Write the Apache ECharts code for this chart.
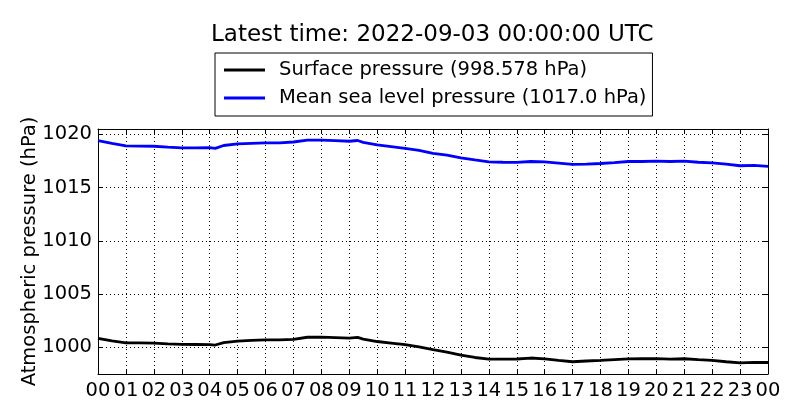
<!DOCTYPE html>
<html>
<head>
<meta charset="utf-8">
<script src="https://cdn.jsdelivr.net/npm/echarts@6/dist/echarts.min.js"></script>
<style>
html,body{margin:0;padding:0;background:#fff;}
#chart{width:800px;height:420px;}
</style>
</head>
<body>
<div id="chart"></div>
<script>
// Hours since 2022-09-02 00:00 UTC
const hours = [0,0.5,1,1.5,2,2.5,3,3.5,4,4.2,4.5,5,5.5,6,6.5,7,7.5,8,8.5,9,9.3,9.5,10,10.5,11,11.5,12,12.5,13,13.5,14,14.5,15,15.5,16,16.5,17,17.5,18,18.5,19,19.5,20,20.5,21,21.5,22,22.5,23,23.5,24];
const surfacePressure = [1000.85,1000.6,1000.42,1000.42,1000.4,1000.33,1000.28,1000.27,1000.26,1000.22,1000.45,1000.58,1000.65,1000.7,1000.7,1000.75,1000.95,1000.97,1000.92,1000.86,1000.93,1000.78,1000.55,1000.4,1000.25,1000.05,999.78,999.55,999.27,999.05,998.9,998.9,998.91,999.0,998.92,998.78,998.65,998.72,998.78,998.85,998.92,998.93,998.94,998.9,998.93,998.85,998.78,998.65,998.55,998.6,998.578];
const mslPressure = [1019.4,1019.15,1018.92,1018.9,1018.88,1018.8,1018.73,1018.72,1018.75,1018.68,1018.95,1019.1,1019.15,1019.2,1019.2,1019.28,1019.45,1019.45,1019.4,1019.35,1019.42,1019.25,1019.0,1018.85,1018.68,1018.5,1018.22,1018.05,1017.8,1017.6,1017.42,1017.38,1017.36,1017.45,1017.42,1017.3,1017.17,1017.2,1017.26,1017.35,1017.45,1017.45,1017.48,1017.45,1017.48,1017.38,1017.32,1017.2,1017.05,1017.08,1017.0];
const seriesNames = ['Surface pressure (998.578 hPa)', 'Mean sea level pressure (1017.0 hPa)'];
const titleText = 'Latest time: 2022-09-03 00:00:00 UTC';
const yAxisName = 'Atmospheric pressure (hPa)';

const FONT = 'DejaVu Sans';
const chart = echarts.init(document.getElementById('chart'), null, {renderer: 'canvas'});
const gridLine = {show: true, lineStyle: {color: '#000', width: 1, type: [1, 3]}};
const tickIn = {show: true, inside: true, length: 5, lineStyle: {color: '#000', width: 1}};
const pad2 = v => String(Math.round(v) % 24).padStart(2, '0');

chart.setOption({
  animation: false,
  backgroundColor: '#fff',
  title: {
    text: titleText,
    left: 206, top: 19,
    textStyle: {fontFamily: FONT, fontSize: 23, fontWeight: 'normal', color: '#000'}
  },
  legend: {
    orient: 'vertical',
    left: 215, top: 53,
    data: seriesNames,
    icon: 'rect',
    itemWidth: 41, itemHeight: 3,
    itemGap: 6,
    padding: [6, 6, 7, 9],
    borderColor: '#000', borderWidth: 1,
    textStyle: {fontFamily: FONT, fontSize: 19.5, color: '#000', lineHeight: 22, padding: [0, 0, 0, 9]}
  },
  grid: {left: 98, right: 32, top: 129, bottom: 46, containLabel: false},
  xAxis: [{
    type: 'value', min: 0, max: 24, interval: 1,
    axisLine: {show: true, onZero: false, lineStyle: {color: '#000', width: 1}},
    axisTick: tickIn,
    axisLabel: {fontFamily: FONT, fontSize: 19.5, color: '#000', margin: 7, formatter: pad2, hideOverlap: false},
    splitLine: gridLine
  }, {
    type: 'value', min: 0, max: 24, interval: 1, position: 'top',
    axisLine: {show: true, onZero: false, lineStyle: {color: '#000', width: 1}},
    axisTick: tickIn, axisLabel: {show: false}, splitLine: {show: false}
  }],
  yAxis: [{
    type: 'value', min: 997.5, max: 1020.5, splitNumber: 5,
    name: yAxisName, nameLocation: 'middle', nameGap: 58, nameMoveOverlap: false,
    nameTextStyle: {fontFamily: FONT, fontSize: 19.5, color: '#000'},
    axisLine: {show: true, onZero: false, lineStyle: {color: '#000', width: 1}},
    axisTick: tickIn,
    axisLabel: {fontFamily: FONT, fontSize: 19.5, color: '#000', margin: 6, showMinLabel: false, showMaxLabel: false,
      formatter: v => String(Math.round(v))},
    splitLine: gridLine
  }, {
    type: 'value', min: 997.5, max: 1020.5, splitNumber: 5, position: 'right',
    axisLine: {show: true, onZero: false, lineStyle: {color: '#000', width: 1}},
    axisTick: tickIn, axisLabel: {show: false}, splitLine: {show: false}
  }],
  series: [{
    name: seriesNames[0], type: 'line', showSymbol: false, symbol: 'none',
    data: hours.map((h, i) => [h, surfacePressure[i]]),
    lineStyle: {color: '#000', width: 2.8}, itemStyle: {color: '#000'}
  }, {
    name: seriesNames[1], type: 'line', showSymbol: false, symbol: 'none',
    data: hours.map((h, i) => [h, mslPressure[i]]),
    lineStyle: {color: '#0000ff', width: 2.8}, itemStyle: {color: '#0000ff'}
  }]
});
</script>
</body>
</html>
